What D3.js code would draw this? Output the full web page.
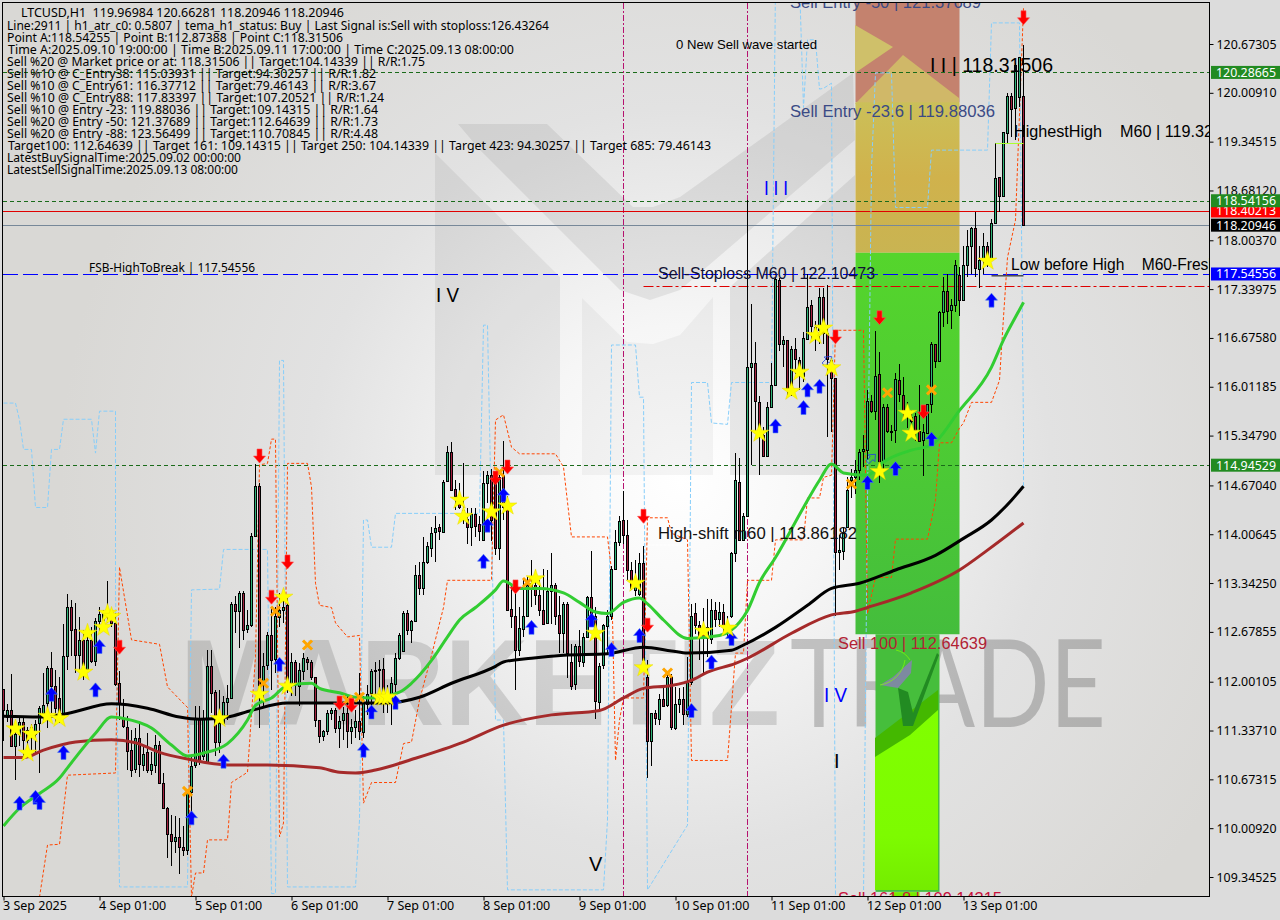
<!DOCTYPE html>
<html><head><meta charset="utf-8">
<script src="https://cdn.jsdelivr.net/npm/d3@7"></script>
<style>html,body{margin:0;padding:0;background:#dcdcdc;overflow:hidden}text{font-family:"Noto Sans",sans-serif}</style>
</head><body><svg id="c" width="1280" height="920"></svg>
<script>
const opens=[111.90,111.53,111.62,111.13,111.29,111.45,111.35,111.26,111.30,111.43,
111.58,111.71,112.19,111.94,111.78,111.55,112.35,113.02,112.72,112.37,
112.57,112.17,112.57,112.28,112.83,112.84,112.87,112.91,112.80,111.98,
111.49,111.39,111.07,110.81,111.23,110.87,111.04,110.80,110.87,111.14,
110.62,110.28,109.93,109.83,109.89,109.75,109.71,110.50,110.86,111.49,
110.99,110.92,112.22,111.86,111.18,111.44,111.72,111.78,113.06,112.96,
113.21,112.71,112.77,113.98,114.66,111.96,112.22,112.64,112.30,112.89,
112.98,113.05,111.98,112.27,111.94,112.14,112.31,112.27,112.07,111.48,
111.26,111.33,111.58,111.62,111.38,111.48,111.57,111.32,111.38,111.46,
111.32,111.71,111.84,112.14,112.16,112.18,111.80,111.73,111.98,112.32,
112.42,112.93,112.70,112.82,113.45,113.27,113.63,113.83,114.03,114.10,
114.03,114.72,115.12,114.62,114.53,114.22,114.22,114.11,114.28,114.14,
113.92,114.70,114.81,114.79,113.83,114.81,114.43,112.99,112.89,112.43,
112.73,112.90,113.26,113.32,113.18,112.98,112.79,113.23,113.31,112.91,
112.66,113.06,112.27,111.96,112.48,112.27,112.61,113.15,112.89,111.73,
112.22,112.76,112.89,113.53,113.90,114.20,113.99,113.52,113.25,113.20,
113.62,112.06,111.19,111.57,111.50,111.77,111.68,112.06,111.38,111.70,
111.77,111.57,112.00,112.93,112.77,112.70,112.59,112.59,112.98,112.86,
112.95,112.77,112.90,113.75,114.72,113.93,114.25,116.27,116.33,115.81,
115.36,115.08,115.74,116.04,117.47,116.60,116.65,115.99,116.52,116.38,
116.15,116.67,117.12,116.83,116.78,117.23,116.74,116.38,116.13,113.76,
113.78,114.11,114.74,114.79,114.88,115.13,115.16,115.82,115.69,116.18,
115.00,115.74,115.40,115.42,116.11,115.90,115.67,115.60,115.61,115.41,
115.28,115.38,115.78,116.60,116.37,117.04,117.32,117.05,117.12,117.53,
117.19,117.67,117.93,118.17,117.62,117.74,117.93,117.77,118.24,118.86,
118.60,119.47,119.97,119.80,119.96,119.97];
const highs=[111.90,111.70,112.10,111.39,111.53,111.53,111.39,111.43,111.48,111.67,
112.12,112.21,112.41,112.16,112.07,112.78,113.20,113.11,113.07,112.88,
112.71,112.75,112.75,112.87,113.02,112.98,113.37,112.98,112.93,112.14,
111.76,111.53,111.35,111.37,111.42,111.12,111.30,111.04,111.28,111.19,
110.76,110.30,110.19,110.17,110.15,110.04,110.53,110.99,111.67,111.67,
111.62,112.43,112.43,111.89,111.89,111.80,111.96,113.09,113.16,113.23,
113.23,112.98,114.02,114.96,114.70,112.39,112.68,113.02,113.02,113.21,
113.20,113.14,112.39,112.30,112.25,112.39,112.34,112.30,112.07,111.48,
111.35,111.62,111.64,111.64,111.53,111.66,111.80,111.50,111.62,112.12,
111.80,111.95,112.18,112.27,112.29,112.33,111.95,112.07,112.39,112.66,
112.96,112.98,112.84,113.59,113.63,113.97,113.90,114.11,114.25,114.15,
114.74,115.20,115.26,114.75,114.70,114.97,114.36,114.36,114.36,114.25,
114.87,114.86,114.90,114.83,114.81,115.27,114.52,113.30,113.38,113.02,
113.38,113.43,113.66,113.52,113.38,113.54,113.52,113.75,113.34,113.16,
113.09,113.09,112.52,112.52,112.70,112.66,113.16,113.78,113.02,112.25,
112.78,112.98,113.57,114.06,114.25,114.59,114.20,113.63,113.66,113.75,
113.84,112.29,111.57,111.62,111.84,111.93,112.11,112.11,111.93,111.91,
111.93,112.34,113.06,113.07,112.83,113.00,113.13,113.13,113.08,113.08,
113.06,112.90,113.77,115.11,115.04,114.30,118.55,117.14,116.62,115.88,
115.47,115.81,116.33,117.51,117.49,116.70,116.65,116.56,116.67,116.42,
116.76,117.55,117.19,116.90,117.35,117.35,117.39,116.40,116.13,114.00,
114.10,114.79,114.90,115.01,115.17,115.35,115.97,115.90,116.77,116.48,
115.78,115.78,115.49,116.20,116.32,116.15,115.80,115.70,115.65,116.04,
115.51,115.78,116.62,116.60,117.04,117.50,117.55,117.20,117.73,117.64,
117.92,118.14,118.19,118.39,117.92,118.10,117.98,118.30,119.32,118.87,
119.48,120.00,120.00,120.41,120.50,120.66];
const lows=[111.19,111.45,111.13,110.67,111.12,110.94,111.01,111.01,111.01,110.76,
111.44,111.37,111.58,111.44,111.44,111.55,112.16,112.35,112.12,112.16,
112.03,112.12,112.25,112.21,112.66,112.70,112.80,112.75,111.94,111.48,
111.37,110.80,110.71,110.76,110.71,110.78,110.76,110.73,110.76,110.62,
110.28,109.60,109.49,109.67,109.38,109.63,109.65,110.17,110.83,110.87,
110.94,110.92,111.58,110.99,111.03,111.44,111.48,111.78,112.66,112.46,
112.57,112.66,112.75,113.98,111.37,111.67,112.16,111.89,112.12,112.75,
112.80,111.85,111.80,111.80,111.67,112.03,112.16,112.03,111.39,111.17,
111.19,111.28,111.48,111.30,111.10,111.21,111.10,111.16,111.23,111.21,
111.23,111.55,111.50,111.71,111.80,111.57,111.57,111.41,111.80,112.30,
112.41,112.64,112.53,112.82,113.18,113.18,113.60,113.70,113.63,113.93,
114.03,114.72,114.61,114.34,114.35,114.15,113.87,113.84,113.97,113.92,
113.91,114.43,113.92,113.72,113.65,114.20,112.98,112.73,111.89,112.35,
112.61,112.90,113.02,113.05,112.89,112.77,112.79,112.79,112.77,112.39,
112.39,112.05,111.89,111.89,112.20,112.20,112.61,112.75,111.49,111.59,
112.18,112.39,112.84,113.52,113.84,113.88,113.38,113.25,113.16,113.16,
112.30,110.69,110.85,111.41,111.41,111.66,111.66,111.34,111.34,111.57,
111.41,111.52,111.95,112.65,112.29,112.11,112.34,112.52,112.74,112.74,
112.68,112.60,112.87,113.63,113.92,113.92,114.25,114.95,115.38,114.81,
115.06,115.06,115.74,116.04,116.50,116.28,115.88,115.88,116.19,115.97,
116.08,116.65,116.62,116.50,116.60,116.60,115.33,115.40,112.89,113.52,
113.66,114.09,114.50,114.56,114.74,114.92,115.01,115.65,115.56,114.70,
114.90,115.38,115.28,115.25,115.80,115.56,115.45,115.40,115.28,115.26,
114.80,115.38,115.65,116.27,116.37,116.83,116.87,116.80,117.03,116.98,
117.19,117.51,117.55,117.51,117.35,117.55,117.64,117.77,118.24,118.39,
118.60,119.32,119.41,119.37,119.82,118.21];
const closes=[111.62,111.62,111.13,111.29,111.45,111.21,111.21,111.39,111.43,111.64,
111.69,112.19,111.94,111.64,111.55,112.35,113.02,112.71,112.37,112.57,
112.23,112.57,112.28,112.83,112.92,112.93,112.93,112.80,111.97,111.71,
111.39,111.07,110.80,111.23,110.87,111.02,110.80,110.88,111.14,110.62,
110.28,109.93,109.83,109.89,109.75,109.71,110.49,110.86,111.49,110.92,
111.49,112.22,111.85,111.18,111.44,111.72,111.78,113.06,112.96,113.21,
112.71,112.77,113.98,114.66,111.96,112.22,112.63,112.30,112.89,112.98,
113.02,111.98,112.27,111.98,112.16,112.32,112.27,112.07,111.48,111.26,
111.33,111.58,111.62,111.37,111.47,111.57,111.32,111.38,111.46,111.32,
111.71,111.84,112.14,112.16,112.18,111.80,111.71,111.98,112.33,112.63,
112.93,112.70,112.82,113.45,113.27,113.63,113.85,114.03,114.09,114.04,
114.71,115.12,114.61,114.53,114.38,114.34,114.11,114.28,114.12,114.04,
114.70,114.81,114.20,113.83,114.79,114.38,112.98,112.89,112.43,112.73,
112.90,113.32,113.34,113.18,112.97,112.79,113.23,113.31,112.89,112.66,
113.06,112.39,111.95,112.48,112.27,112.61,113.15,112.89,111.73,112.22,
112.77,112.89,113.53,113.90,114.19,113.99,113.52,113.27,113.38,113.62,
112.30,111.19,111.57,111.50,111.77,111.68,112.06,111.38,111.70,111.77,
111.57,112.00,112.90,112.77,112.59,112.59,112.74,112.98,112.86,112.95,
112.77,112.72,113.75,114.74,113.93,114.25,116.28,116.33,115.81,115.36,
115.07,115.74,116.04,117.48,116.60,116.65,115.99,116.52,116.38,116.19,
116.67,117.10,116.83,116.70,117.23,116.74,116.38,116.13,113.76,113.79,
114.02,114.61,114.78,114.88,115.13,115.16,115.82,115.69,116.16,115.00,
115.74,115.41,115.41,116.12,115.92,115.67,115.65,115.55,115.42,115.28,
115.39,115.78,116.60,116.37,117.03,117.32,117.05,117.12,117.67,117.19,
117.67,117.93,118.17,117.62,117.74,117.93,117.77,118.24,118.85,118.60,
119.47,119.97,119.80,120.39,120.50,118.21];

// moving averages: [bar index, price]
const blackMA=[[0,111.53],[9,111.52],[16,111.57],[27,111.70],[36,111.64],[44,111.52],[49,111.49],[56,111.52],[62,111.61],[71,111.71],[84,111.71],[95,111.71],[104,111.79],[112,111.98],[123,112.21],[125,112.27],[132,112.32],[140,112.36],[151,112.38],[160,112.47],[167,112.42],[171,112.39],[182,112.43],[185,112.50],[193,112.74],[201,113.04],[207,113.27],[214,113.34],[223,113.52],[233,113.72],[240,113.95],[247,114.20],[252,114.47],[255,114.66]];
const brownMA=[[0,110.97],[5,110.97],[10,111.07],[18,111.18],[27,111.21],[33,111.17],[39,111.04],[46,110.95],[56,110.87],[66,110.87],[79,110.83],[84,110.77],[88,110.76],[93,110.80],[103,110.96],[115,111.18],[125,111.41],[137,111.55],[149,111.61],[155,111.78],[160,111.91],[167,111.95],[172,112.02],[176,112.13],[183,112.25],[186,112.32],[197,112.66],[207,112.91],[213,112.96],[216,113.01],[227,113.21],[239,113.52],[246,113.79],[255,114.16]];
const greenMA=[[0,110.04],[4,110.28],[9,110.48],[14,110.69],[16,110.83],[23,111.30],[27,111.52],[30,111.50],[37,111.37],[42,111.14],[46,110.99],[50,111.03],[56,111.16],[61,111.48],[63,111.68],[67,111.78],[71,111.95],[77,111.98],[79,111.91],[84,111.85],[88,111.79],[92,111.78],[99,111.86],[102,111.98],[107,112.29],[111,112.61],[114,112.84],[118,113.01],[123,113.25],[125,113.37],[129,113.27],[134,113.27],[140,113.21],[144,113.08],[148,112.95],[151,112.93],[155,113.08],[159,113.14],[161,113.06],[165,112.84],[171,112.59],[179,112.63],[184,112.81],[186,112.97],[189,113.35],[193,113.69],[200,114.37],[204,114.74],[207,114.96],[210,114.84],[216,114.81],[220,114.99],[227,115.15],[232,115.22],[239,115.69],[247,116.28],[250,116.65],[253,116.96],[255,117.16]];
const orangeStop=[[9,109.07],[11,109.78],[14,109.79],[16,110.73],[28,110.76],[29,113.56],[32,112.57],[39,112.51],[41,111.93],[46,111.65],[47,109.07],[48,109.40],[50,109.40],[51,109.85],[56,109.85],[57,110.63],[61,110.77],[63,112.34],[64,114.95],[66,114.97],[67,115.30],[68,115.30],[69,109.89],[70,110.08],[71,114.97],[76,114.97],[77,114.65],[78,113.34],[79,113.04],[82,113.01],[83,112.80],[86,112.61],[89,112.63],[90,110.35],[92,110.63],[98,110.63],[100,111.16],[102,111.18],[104,111.75],[107,112.36],[110,113.01],[111,113.38],[122,113.38],[123,115.56],[125,115.63],[127,115.19],[129,115.10],[138,115.10],[140,114.92],[142,113.97],[151,113.97],[152,113.52],[153,110.93],[154,111.48],[155,111.78],[160,111.78],[161,114.23],[166,114.23],[167,114.02],[171,113.93],[172,110.93],[181,110.93],[183,112.39],[185,112.39],[186,113.38],[192,113.38],[193,113.93],[200,113.93],[201,114.50],[204,114.50],[205,114.78],[207,114.81],[208,116.78],[215,116.78],[216,112.93],[218,113.42],[222,113.42],[223,113.94],[231,113.94],[233,114.47],[234,115.25],[237,115.25],[239,115.45],[240,115.52],[242,115.80],[247,115.80],[249,116.10],[250,116.96],[251,117.77],[253,118.28],[255,121.17]];
const blueStop=[[0,115.79],[3,115.79],[4,115.56],[5,115.16],[7,115.16],[8,114.37],[11,114.37],[12,115.16],[14,115.16],[15,115.57],[22,115.57],[23,115.11],[24,115.68],[28,115.68],[28,113.25],[29,109.21],[46,109.21],[47,113.25],[54,113.26],[55,113.80],[66,113.80],[67,109.12],[68,109.12],[69,116.37],[70,116.37],[71,109.21],[88,109.21],[89,110.12],[90,114.20],[91,114.20],[92,113.83],[97,113.83],[98,114.29],[119,114.29],[120,116.85],[121,116.85],[123,111.48],[125,111.48],[126,109.17],[150,109.17],[151,110.12],[152,116.58],[158,116.58],[159,115.87],[160,115.87],[161,109.17],[171,110.05],[172,116.07],[176,116.07],[177,115.52],[181,115.50],[182,116.07],[192,116.07],[193,121.5],[199,121.5],[200,119.81],[201,120.73],[203,120.73],[204,120.06],[205,120.07],[207,120.14],[208,109.07],[215,109.07],[216,114.47],[217,118.98],[218,120.28],[222,120.28],[223,118.45],[231,118.45],[232,119.23],[246,119.23],[247,120.96],[254,120.96],[255,115.38],[255,114.66]];

const stars=[[3,111.36],[7,111.29],[6,111.03],[11,111.53],[14,111.50],[20,112.13],[21,112.66],[25,112.74],[26,112.93],[27,112.89],[54,111.50],[64,111.83],[71,111.94],[70,113.15],[94,111.79],[95,111.79],[96,111.79],[114,114.47],[115,114.25],[122,114.31],[126,114.39],[133,113.40],[148,112.66],[158,113.34],[160,112.19],[175,112.69],[181,112.73],[189,115.38],[197,115.95],[199,116.21],[203,116.71],[205,116.81],[207,116.27],[219,114.86],[226,115.65],[227,115.38],[246,117.72]];
const upArrows=[[4,110.35],[8,110.43],[9,110.36],[12,111.83],[15,111.04],[23,111.89],[24,112.48],[55,110.92],[47,110.15],[69,112.24],[90,111.07],[92,111.59],[98,111.72],[120,113.64],[121,114.13],[125,114.54],[132,112.74],[147,112.84],[152,112.44],[159,112.63],[172,111.61],[177,112.27],[182,112.59],[193,115.48],[200,115.73],[201,115.97],[204,116.02],[216,114.71],[223,114.90],[232,115.30],[247,117.19]];
const downArrows=[[29,112.47],[64,115.07],[67,113.15],[71,113.63],[84,111.71],[87,111.68],[123,114.77],[126,114.92],[128,113.29],[160,114.25],[161,112.77],[208,116.69],[219,116.95],[230,115.67],[255,121.03]];
const crosses=[[46,110.51],[68,112.96],[65,111.98],[76,112.50],[86,111.75],[89,111.79],[124,114.85],[131,113.35],[166,112.12],[212,114.69],[221,115.93],[232,115.97]];
const hollowArrows=[[206,116.37],[217,115.04]];

const priceTicks=[120.67305,120.00910,119.34515,118.68120,118.00370,117.33975,116.67580,116.01185,115.34790,114.67040,114.00645,113.34250,112.67855,112.00105,111.33710,110.67315,110.00920,109.34525];
const dayBars=[0,24,48,72,96,120,144,168,192,216,240];
const dayLabels=["3 Sep 2025","4 Sep 01:00","5 Sep 01:00","6 Sep 01:00","7 Sep 01:00","8 Sep 01:00","9 Sep 01:00","10 Sep 01:00","11 Sep 01:00","12 Sep 01:00","13 Sep 01:00"];
const tagPrices=[118.40213,120.28665,118.54156,118.20946,117.54556,114.94529];
const tagColors=["#ff0000","#228b22","#228b22","#000000","#0000ff","#228b22"];
const commentLines=["LTCUSD,H1  119.96984 120.66281 118.20946 118.20946",
"Line:2911 | h1_atr_c0: 0.5807 | tema_h1_status: Buy | Last Signal is:Sell with stoploss:126.43264",
"Point A:118.54255 | Point B:112.87388 | Point C:118.31506",
"Time A:2025.09.10 19:00:00 | Time B:2025.09.11 17:00:00 | Time C:2025.09.13 08:00:00",
"Sell %20 @ Market price or at: 118.31506 || Target:104.14339 || R/R:1.75",
"Sell %10 @ C_Entry38: 115.03931 || Target:94.30257 || R/R:1.82",
"Sell %10 @ C_Entry61: 116.37712 || Target:79.46143 || R/R:3.67",
"Sell %10 @ C_Entry88: 117.83397 || Target:107.20521 || R/R:1.24",
"Sell %10 @ Entry -23: 119.88036 || Target:109.14315 || R/R:1.64",
"Sell %20 @ Entry -50: 121.37689 || Target:112.64639 || R/R:1.73",
"Sell %20 @ Entry -88: 123.56499 || Target:110.70845 || R/R:4.48",
"Target100: 112.64639 || Target 161: 109.14315 || Target 250: 104.14339 || Target 423: 94.30257 || Target 685: 79.46143",
"LatestBuySignalTime:2025.09.02 00:00:00",
"LatestSellSignalTime:2025.09.13 08:00:00"];
const commentX=[21,7,7,8,7,7,7,7,7,7,7,8,7,7];
const commentW=[323,542,336,506,418,369,369,377,371,371,371,703,234,231];

const svg=d3.select("#c");
const x=d3.scaleLinear().domain([0,255]).range([3.5,1023.5]);
const y=d3.scaleLinear().domain([120.67305,109.34525]).range([44,877]);
const X=a=>x(a[0]),Y=a=>y(a[1]);
const defs=svg.append("defs");
const bg=defs.append("radialGradient").attr("id","bg").attr("gradientUnits","userSpaceOnUse").attr("cx",680).attr("cy",480).attr("r",620);
[[0,"#ffffff"],[0.25,"#f6f6f6"],[0.6,"#e2e2e2"],[1,"#d9d8d5"]].forEach(s=>bg.append("stop").attr("offset",s[0]).attr("stop-color",s[1]));
const gy=defs.append("linearGradient").attr("id","gy").attr("x1",0).attr("y1",0).attr("x2",0).attr("y2",1);
[[0,"#cbc059"],[0.5,"#d0b24c"],[1,"#c9b452"]].forEach(s=>gy.append("stop").attr("offset",s[0]).attr("stop-color",s[1]));
const gg=defs.append("linearGradient").attr("id","gg").attr("x1",0).attr("y1",0).attr("x2",0).attr("y2",1);
[[0,"#55d52c"],[0.5,"#4dcb34"],[1,"#44bd3c"]].forEach(s=>gg.append("stop").attr("offset",s[0]).attr("stop-color",s[1]));
const gl=defs.append("linearGradient").attr("id","gl").attr("x1",0).attr("y1",0).attr("x2",0).attr("y2",1);
[[0,"#80ff00"],[0.7,"#7dfb00"],[1,"#74ec00"]].forEach(s=>gl.append("stop").attr("offset",s[0]).attr("stop-color",s[1]));
defs.append("clipPath").attr("id","plot").append("rect").attr("x",3).attr("y",3).attr("width",1206).attr("height",893);

svg.append("rect").attr("width",1280).attr("height",920).attr("fill","#dcdcdc");
const g=svg.append("g").attr("clip-path","url(#plot)");
g.append("rect").attr("x",3).attr("y",3).attr("width",1206).attr("height",893).attr("fill","url(#bg)");

// big background logo
const logo=[["#000",.06,[[435,153],[560,277],[560,475],[435,475]]],
["#000",.07,[[458,124],[547,124],[633,207],[653,207],[680,197],[853,73],[855,140],[680,290],[650,300],[620,290],[480,150]]],
["#000",.04,[[582,298],[627,342],[653,344],[680,335],[713,297],[713,475],[582,475]]],
["#000",.08,[[730,287],[855,175],[855,475],[730,475]]]];
g.selectAll("polygon.logo").data(logo).join("polygon").attr("points",d=>d[2].join(" ")).attr("fill",d=>d[0]).attr("fill-opacity",d=>d[1]);
g.append("text").text("MARKETIZ").attr("x",180).attr("y",725).attr("font-size",122).attr("font-weight",700).attr("textLength",600).attr("lengthAdjust","spacingAndGlyphs").attr("fill","#000").attr("fill-opacity",.13).style("font-family","Liberation Sans");
g.append("text").text("TRADE").attr("x",790).attr("y",727).attr("font-size",122).attr("font-weight",400).attr("textLength",316).attr("lengthAdjust","spacingAndGlyphs").attr("fill","#000").attr("fill-opacity",.2).style("font-family","Lato");

// fibo zones, bounded by price levels from the comment block
const lv={a:121.37689,b:119.88036,c:117.83397,d:112.64639,e:109.14315};
const zone=(i0,i1,p0,p1,f)=>g.append("rect").attr("x",x(i0)).attr("width",x(i1)-x(i0)).attr("y",y(p0)).attr("height",y(p1)-y(p0)).attr("fill",f);
zone(213,239,lv.a,lv.b,"#c4826e");
g.append("polygon").attr("points","855,25 893,47 855,73").attr("fill","#cfc06a");
g.append("polygon").attr("points","855,104 903,55 959,98 959,104").attr("fill","#d0b868");
zone(213,239,lv.b,lv.c,"url(#gy)");
zone(213,239,lv.c,lv.d,"url(#gg)");
zone(218,234,lv.d,lv.e,"#46be3c");
g.append("polygon").attr("points","875,738 938,690 938,890 875,890").attr("fill","#44b800");
g.append("polygon").attr("points","875,757 910,735 938,710 938,890 875,890").attr("fill","url(#gl)");
zone(222,229,109.14,109.0,"#74ec00");
g.append("polygon").attr("points","898,688 908,692 913,713 937,653 939,655 913,726 903,726").attr("fill","#228b22");
g.append("polygon").attr("points","912,660 911,673 898,688 880,685 893,677").attr("fill","#7d8aa0");
g.append("path").attr("d","M896,650 A22,22 0 0 1 910,660 M880,685 A30,30 0 0 0 905,660").attr("fill","none").attr("stroke","#7fff00").attr("stroke-width",.7);

// vertical session markers
[155,186].forEach(i=>g.append("line").attr("x1",x(i)).attr("x2",x(i)).attr("y1",3).attr("y2",896).attr("stroke","#b5126f").attr("stroke-dasharray","6,2,2,2"));

// horizontal levels
const hl=(p,c,dash,i0)=>g.append("line").attr("x1",i0==null?3:x(i0)).attr("x2",1209).attr("y1",Math.round(y(p))+.5).attr("y2",Math.round(y(p))+.5).attr("stroke",c).attr("stroke-dasharray",dash);
hl(120.28665,"#1a6b1a","4,3");hl(118.54156,"#1a6b1a","4,3");hl(114.94529,"#1a6b1a","4,3");
hl(118.40213,"#e00000",null);hl(118.20946,"#778899",null);hl(117.54556,"#0000ff","15,5");hl(117.385,"#dd0000","10,3,3,3",160);

// stop lines
const stepLine=d3.line().x(X).y(Y);
g.append("path").attr("d",stepLine(blueStop)).attr("fill","none").attr("stroke","#87cefa").attr("stroke-width",1).attr("stroke-dasharray","4,2");
g.append("path").attr("d",stepLine(orangeStop)).attr("fill","none").attr("stroke","#ff4500").attr("stroke-width",1).attr("stroke-dasharray","3,2");

// candles
const candles=opens.map((o,i)=>({i,o,h:highs[i],l:lows[i],c:closes[i]}));
const cg=g.append("g").attr("shape-rendering","crispEdges");
cg.selectAll("line").data(candles).join("line").attr("x1",d=>x(d.i)).attr("x2",d=>x(d.i)).attr("y1",d=>y(d.h)).attr("y2",d=>y(d.l)).attr("stroke","#000");
cg.selectAll("rect").data(candles).join("rect").attr("x",d=>x(d.i)-1).attr("width",2)
 .attr("y",d=>Math.round(y(Math.max(d.o,d.c)))+.5).attr("height",d=>Math.max(1,Math.round(Math.abs(y(d.o)-y(d.c)))))
 .attr("fill",d=>d.c>=d.o?"#2fb377":"#a3203f").attr("stroke","#000").attr("stroke-width",1);

// moving averages
const ma=d3.line().x(X).y(Y).curve(d3.curveMonotoneX);
[[brownMA,"#a52a2a"],[blackMA,"#000000"],[greenMA,"#32cd32"]].forEach(m=>g.append("path").attr("d",ma(m[0])).attr("fill","none").attr("stroke",m[1]).attr("stroke-width",3).attr("stroke-linejoin","round"));

// extra short levels
g.append("line").attr("x1",x(247)).attr("x2",x(255)).attr("y1",y(117.52)).attr("y2",y(117.52)).attr("stroke","#000");
g.append("line").attr("x1",x(248)).attr("x2",x(255)).attr("y1",y(119.32)).attr("y2",y(119.32)).attr("stroke","#adff2f");
g.append("line").attr("x1",x(161)).attr("x2",x(170)).attr("y1",y(113.86)).attr("y2",y(113.86)).attr("stroke","#fff").attr("stroke-dasharray","3,1");

// markers
const upShape="M0,-7 L6,0 L2.5,0 L2.5,7 L-2.5,7 L-2.5,0 L-6,0 Z";
const dnShape="M0,7 L6,0 L2.5,0 L2.5,-7 L-2.5,-7 L-2.5,0 L-6,0 Z";
const T=d=>`translate(${X(d)},${Y(d)})`;
g.selectAll("path.h").data(hollowArrows).join("path").attr("class","h").attr("transform",d=>T(d)+" rotate(45) scale(.8)").attr("d",upShape).attr("fill","none").attr("stroke","#2040e0");
g.selectAll("path.x").data(crosses).join("path").attr("class","x").attr("transform",T).attr("d",d3.symbol(d3.symbolX,55)).attr("fill","none").attr("stroke","#ffa500").attr("stroke-width",3);
g.selectAll("path.u").data(upArrows).join("path").attr("class","u").attr("transform",T).attr("d",upShape).attr("fill","#0000ff").attr("stroke","#4a7df0").attr("stroke-width",.6);
g.selectAll("path.d").data(downArrows).join("path").attr("class","d").attr("transform",T).attr("d",dnShape).attr("fill","#ff0000").attr("stroke","#ff5050").attr("stroke-width",.6);
g.selectAll("path.s").data(stars).join("path").attr("class","s").attr("transform",T).attr("d",d3.symbol(d3.symbolStar,110)).attr("fill","#ffff00").attr("stroke","#e8d800").attr("stroke-width",.5);

// chart text
const label=(t,px,py,fs,c,w)=>{const e=g.append("text").text(t).attr("x",px).attr("y",py).attr("font-size",fs).attr("fill",c).style("white-space","pre").style("font-family","Liberation Sans");if(w)e.attr("textLength",w).attr("lengthAdjust","spacingAndGlyphs");return e;};
label("0 New Sell wave started",676,49,13,"#000",141);
label("Sell Entry -50 | 121.37689",790,8,16,"#3b4a85",191);
label("Sell Entry -23.6 | 119.88036",790,117,16,"#3b4a85",205);
label("I I | 118.31506",930,72,20,"#000",123);
label("HighestHigh    M60 | 119.32255",1014,137,16,"#000",226);
label("Low before High    M60-Fresh",1011,270,16,"#000",206);
label("Sell-Stoploss M60 | 122.10473",658,279,16,"#111133",217);
label("High-shift m60 | 113.86182",658,539,16,"#111",199);
label("Sell 100 | 112.64639",838,649,16,"#b22234",149);
label("Sell 161.8 | 109.14315",838,904,16,"#c8103c",164);
label("I V",436,302,20,"#000",23);
label("I I I",764,195,20,"#0000ff",24);
label("I V",824,702,20,"#0000ff",23);
label("I",834,768,20,"#000");
label("V",589,871,20,"#000");
g.append("text").text("FSB-HighToBreak | 117.54556").attr("x",89).attr("y",272).attr("font-size",12).attr("fill","#000").attr("textLength",166).attr("lengthAdjust","spacingAndGlyphs");
g.selectAll("text.cm").data(commentLines).join("text").attr("class","cm").text(d=>d).attr("x",(d,i)=>commentX[i]).attr("y",(d,i)=>i?30+12*(i-1):17).attr("font-size",12).attr("fill","#000").attr("textLength",(d,i)=>commentW[i]).attr("lengthAdjust","spacingAndGlyphs").style("white-space","pre");

// frame and axes
svg.append("rect").attr("x",2.5).attr("y",2.5).attr("width",1207).attr("height",894).attr("fill","none").attr("stroke","#000");
const ay=d3.axisRight(y).tickValues(priceTicks).tickFormat(d=>d.toFixed(5)).tickSize(4).tickSizeOuter(0);
const ayg=svg.append("g").attr("transform","translate(1209.5,0)").call(ay);
ayg.select(".domain").remove();
ayg.selectAll("text").attr("x",7).attr("font-size",12.5).attr("fill","#000").attr("textLength",60).attr("lengthAdjust","spacingAndGlyphs");
const ax=d3.axisBottom(x).tickValues(dayBars).tickFormat((d,i)=>dayLabels[i]).tickSize(4).tickSizeOuter(0);
const axg=svg.append("g").attr("transform","translate(0,896.5)").call(ax);
axg.select(".domain").remove();
axg.selectAll("text").attr("text-anchor","start").attr("x",-1).attr("y",5).attr("font-size",12.5).attr("fill","#000");

// right tags
const tg=svg.append("g").selectAll("g").data(tagPrices).join("g").attr("transform",d=>`translate(1210,${y(d)})`);
tg.append("rect").attr("x",1).attr("y",-6.5).attr("width",69).attr("height",13).attr("fill",(d,i)=>tagColors[i]);
tg.append("text").text(d=>d.toFixed(5)).attr("x",6).attr("y",4.5).attr("font-size",12.5).attr("fill","#fff").attr("textLength",60).attr("lengthAdjust","spacingAndGlyphs");
</script></body></html>
